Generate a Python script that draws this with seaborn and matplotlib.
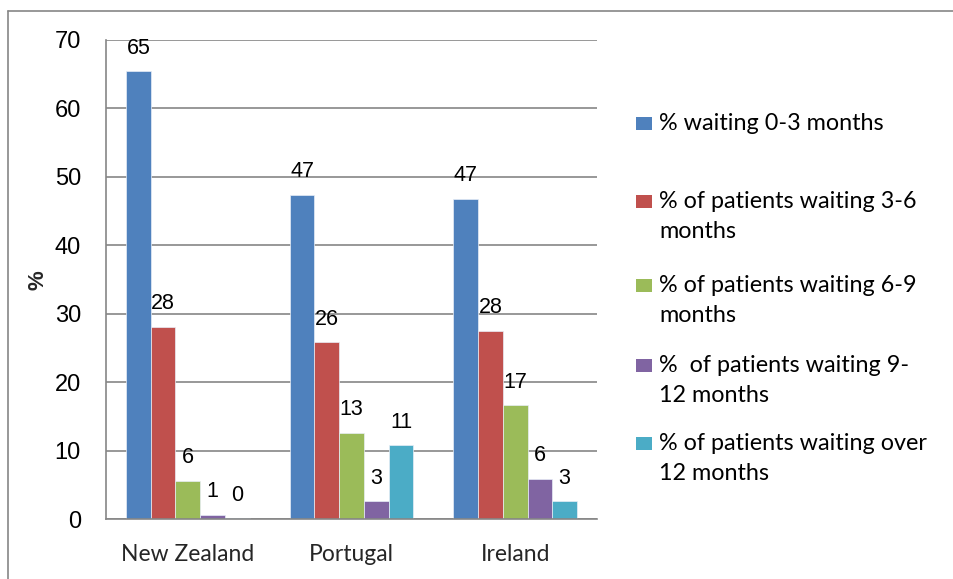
import pandas as pd
import matplotlib.pyplot as plt
import seaborn as sns
from matplotlib.patches import Rectangle
from matplotlib.lines import Line2D

# Данные
countries = ["New Zealand", "Portugal", "Ireland"]
series = ["% waiting 0-3 months",
          "% of patients waiting 3-6\nmonths",
          "% of patients waiting 6-9\nmonths",
          "%  of patients waiting 9-\n12 months",
          "% of patients waiting over\n12 months"]
wait_0_3 = [65.4, 47.4, 46.8]
wait_3_6 = [28.1, 25.8, 27.5]
wait_6_9 = [5.6, 12.6, 16.6]
wait_9_12 = [0.6, 2.6, 5.9]
wait_over_12 = [0.1, 10.8, 2.6]
colors = ["#4F81BD", "#C0504D", "#9BBB59", "#8064A2", "#4BACC6"]

values = [wait_0_3, wait_3_6, wait_6_9, wait_9_12, wait_over_12]
rows = []
for s, vals in zip(series, values):
    for c, v in zip(countries, vals):
        rows.append({"country": c, "series": s, "value": v})
df = pd.DataFrame(rows)

sns.set_style("white")
fig = plt.figure(figsize=(9.54, 5.79), dpi=100)
ax = fig.add_axes([106 / 954, 1 - 519 / 579, (597 - 106) / 954, (519 - 40) / 579])

sns.barplot(data=df, x="country", y="value", hue="series", order=countries,
            hue_order=series, palette=colors, width=0.756, saturation=1,
            edgecolor="#e8eef7", linewidth=0.5, legend=False, ax=ax)

# Подписи значений
for cont in ax.containers:
    ax.bar_label(cont, fmt="%.0f", padding=9, fontsize=15.5,
                 family="Liberation Sans", color="black")

ax.set_ylim(0, 70)
ax.set_xlim(-0.5, 2.5)
ax.set_yticks(range(0, 71, 10))
ax.tick_params(axis="y", labelsize=17, length=6, width=1.2, color="#868686",
               pad=12, labelcolor="black")
for lab in ax.get_yticklabels():
    lab.set_family("Liberation Sans")

ax.set_xticks(range(len(countries)))
ax.set_xticklabels(countries, family="Lato", fontsize=16.5)
ax.tick_params(axis="x", length=0, pad=18)
ax.set_xticks([-0.5, 0.5, 1.5, 2.5], minor=True)
ax.tick_params(axis="x", which="minor", length=6, width=1.2, color="#868686")

ax.grid(axis="y", color="#868686", linewidth=1.2)
ax.set_axisbelow(True)
for side in ["top", "right"]:
    ax.spines[side].set_visible(False)
for side in ["left", "bottom"]:
    ax.spines[side].set_color("#868686")
    ax.spines[side].set_linewidth(1.2)

ax.set_xlabel("")
ax.set_ylabel("%", fontsize=16, fontweight="bold", family="Liberation Sans")
ax.yaxis.set_label_coords((49 - 106) / 491, (519 - 280) / 479)

# Легенда (вручную, маркер у первой строки)
W, H = 954, 579
starts = [123, 202, 285, 365, 443]
for s, col, y0 in zip(series, colors, starts):
    fig.add_artist(Rectangle((636 / W, 1 - (y0 + 6.5) / H), 16 / W, 13 / H,
                             transform=fig.transFigure, facecolor=col,
                             edgecolor="none"))
    for i, line in enumerate(s.split("\n")):
        fig.text(659 / W, 1 - (y0 + i * 30) / H, line, family="Lato",
                 fontsize=16.8, va="center", ha="left", color="black")

# Рамка диаграммы
fig.add_artist(Line2D([8 / W, 1], [1 - 11 / H, 1 - 11 / H], color="#868686",
                      linewidth=1.2, transform=fig.transFigure))
fig.add_artist(Line2D([8 / W, 8 / W], [0, 1 - 11 / H], color="#868686",
                      linewidth=1.2, transform=fig.transFigure))

fig.savefig("out.png", dpi=100)
